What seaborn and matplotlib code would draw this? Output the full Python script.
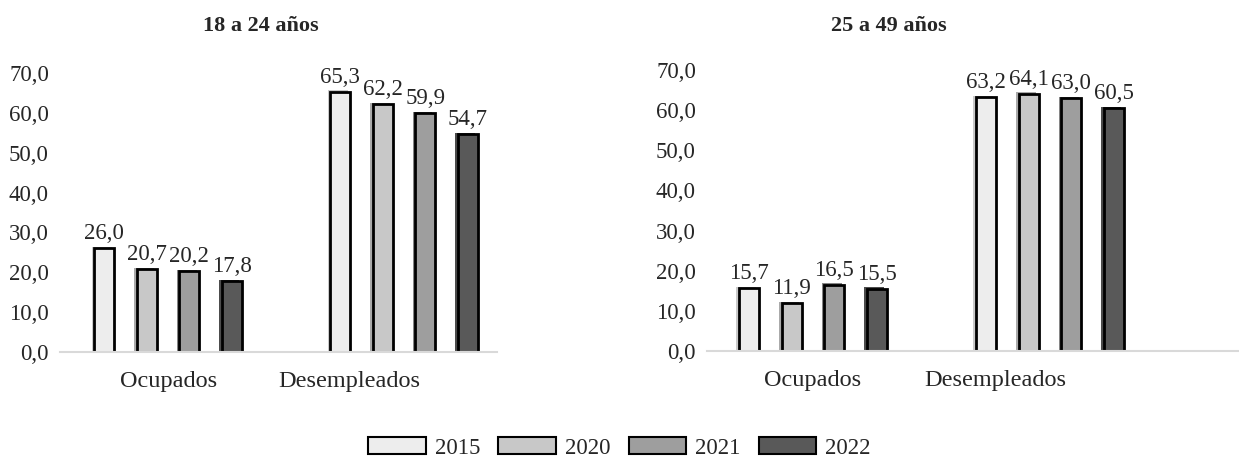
import numpy as np
import pandas as pd
import matplotlib.pyplot as plt
import matplotlib.patheffects as pe
import seaborn as sns

# data
CATEGORIES = ['Ocupados', 'Desempleados']
YEARS = ['2015', '2020', '2021', '2022']
EDAD_18_24 = {'2015': [26.0, 65.3], '2020': [20.7, 62.2], '2021': [20.2, 59.9], '2022': [17.8, 54.7]}
EDAD_25_49 = {'2015': [15.7, 63.2], '2020': [11.9, 64.1], '2021': [16.5, 63.0], '2022': [15.5, 60.5]}
TITLES = ['18 a 24 años', '25 a 49 años']
COLORS = ['#ededed', '#c8c8c8', '#9e9e9e', '#595959']

sns.set_style('white')
plt.rcParams['font.family'] = ['Liberation Serif', 'DejaVu Serif']


def to_long(d):
    rows = []
    for y in YEARS:
        for c, v in zip(CATEGORIES, d[y]):
            rows.append({'cat': c, 'year': y, 'val': v})
    return pd.DataFrame(rows)


def coma(v):
    return f'{v:.1f}'.replace('.', ',')


fig = plt.figure(figsize=(12.39, 4.59), dpi=100)
ax1 = fig.add_axes([60 / 1239, 1 - 352 / 459, 437 / 1239, 279 / 459])
ax2 = fig.add_axes([707 / 1239, 1 - 351 / 459, 532 / 1239, 281 / 459])

setup = [(ax1, EDAD_18_24, (-0.458, 1.394), 261), (ax2, EDAD_25_49, (-0.447, 1.797), 889)]
for i, (ax, data, xl, tx) in enumerate(setup):
    df = to_long(data)
    sns.barplot(data=df, x='cat', y='val', hue='year', order=CATEGORIES, hue_order=YEARS,
                palette=COLORS, edgecolor='black', linewidth=2, width=0.72, gap=0.53,
                saturation=1, legend=False, ax=ax)
    for p in ax.patches:
        p.set_path_effects([pe.SimplePatchShadow(offset=(-2, 1), rho=0.85, alpha=1), pe.Normal()])
    for cont in ax.containers:
        ax.bar_label(cont, labels=[coma(v) for v in cont.datavalues], padding=3, fontsize=16.5)
    ax.set_ylim(0, 70)
    ax.set_yticks(np.arange(0, 71, 10))
    ax.set_yticklabels([coma(v) for v in np.arange(0, 71, 10)], fontsize=16.5)
    ax.set_xlim(*xl)
    ax.set_xticks([0, 0.77])
    ax.set_xticklabels(CATEGORIES, fontsize=17.5)
    ax.tick_params(axis='y', length=0, pad=8)
    ax.tick_params(axis='x', length=0, pad=14)
    ax.set_xlabel('')
    ax.set_ylabel('')
    for s in ['top', 'right', 'left']:
        ax.spines[s].set_visible(False)
    ax.spines['bottom'].set_color('#d9d9d9')
    ax.spines['bottom'].set_linewidth(1.5)
    fig.text(tx / 1239, 1 - 26 / 459, TITLES[i], ha='center', va='center',
             fontsize=16, fontweight='bold')

handles = [plt.Rectangle((0, 0), 1, 1, facecolor=c, edgecolor='black', linewidth=1.5) for c in COLORS]
fig.legend(handles, YEARS, loc='center', bbox_to_anchor=(0.5, 1 - 448 / 459), ncol=4,
           frameon=False, fontsize=16.5, handlelength=2.5, handleheight=0.7,
           handletextpad=0.4, columnspacing=0.8)

fig.savefig('out.png', dpi=100)
